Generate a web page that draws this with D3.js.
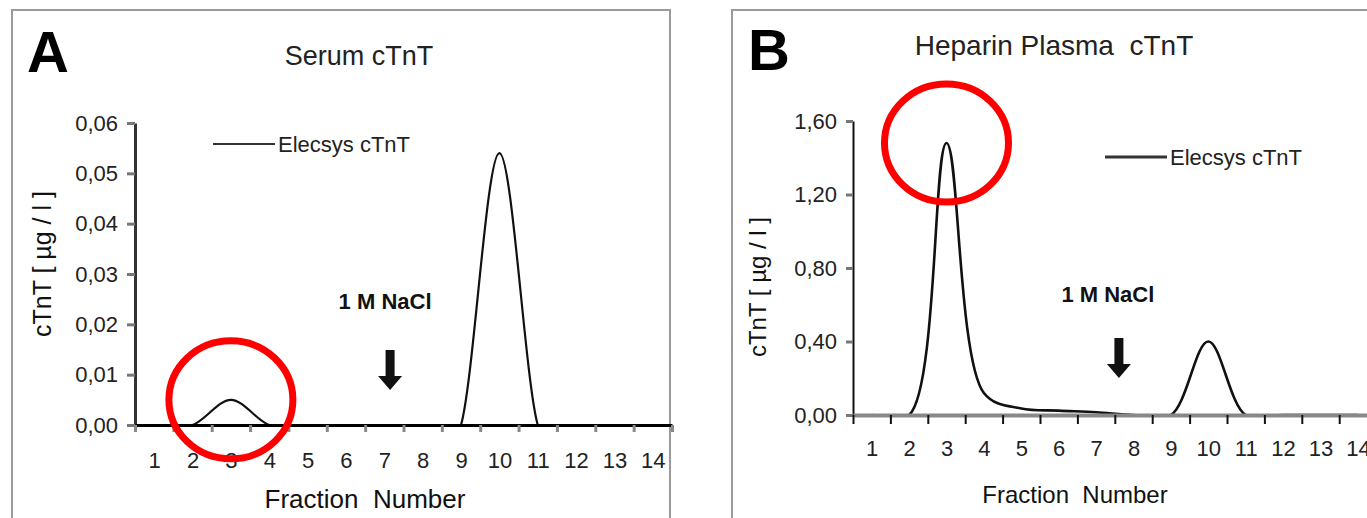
<!DOCTYPE html>
<html>
<head>
<meta charset="utf-8">
<script src="https://cdn.jsdelivr.net/npm/d3@7"></script>
<style>
  body { margin: 0; background: #fff; }
  svg { display: block; font-family: "Liberation Sans", Arial, sans-serif; }
</style>
</head>
<body>
<svg id="chart" width="1367" height="518"></svg>
<script>
// values
const fractions = [1, 2, 3, 4, 5, 6, 7, 8, 9, 10, 11, 12, 13, 14];
const serumCtnt = [0, 0, 0.005, 0, 0, 0, 0, 0, 0, 0.054, 0, 0, 0, 0];
const heparinCtnt = [0, 0, 1.48, 0.12, 0.035, 0.024, 0.015, 0, 0, 0.40, 0, 0, 0, 0];
const serumTicks = [0, 0.01, 0.02, 0.03, 0.04, 0.05, 0.06];
const heparinTicks = [0, 0.4, 0.8, 1.2, 1.6];
const seriesName = "Elecsys cTnT";
const naclLabel = "1 M NaCl";

const svg = d3.select("#chart");
svg.append("rect").attr("width", 1367).attr("height", 518).attr("fill", "#fff");

const fmt = v => d3.format(".2f")(v).replace(".", ",");

function drawPanel(p) {
    const g = svg.append("g");

    // frame round the panel (bottom is cut off by the picture)
    g.append("path")
        .attr("d", `M${p.frame.left},530V${p.frame.top}H${p.frame.right}V530`)
        .attr("fill", "none")
        .attr("stroke", "#9a9a9a")
        .attr("stroke-width", 2);

    g.append("text")
        .attr("x", p.letter.x).attr("y", p.letter.y)
        .attr("font-size", 58).attr("font-weight", "bold").attr("fill", "#000")
        .text(p.letter.text);

    g.append("text")
        .attr("x", p.title.x).attr("y", p.title.y)
        .attr("text-anchor", "middle")
        .attr("font-size", p.title.size).attr("fill", "#222")
        .style("white-space", "pre")
        .text(p.title.text);

    const x = d3.scaleLinear().domain([0.5, 14.5]).range([p.plot.x0, p.plot.x1]);
    const y = d3.scaleLinear().domain([0, p.yMax]).range([p.plot.yBase, p.plot.yTop]);

    // smoothed curve (Catmull-Rom, like a spreadsheet "smoothed line"), clipped at zero
    const clipId = "clip" + p.letter.text;
    g.append("clipPath").attr("id", clipId)
        .append("rect")
        .attr("x", p.plot.x0).attr("y", 0)
        .attr("width", p.plot.x1 - p.plot.x0)
        .attr("height", p.plot.yBase + 1.5);

    const line = d3.line()
        .x((d, i) => x(fractions[i]))
        .y(d => y(d))
        .curve(d3.curveCatmullRom.alpha(p.smooth));

    g.append("path")
        .datum(p.values)
        .attr("clip-path", `url(#${clipId})`)
        .attr("fill", "none")
        .attr("stroke", "#111")
        .attr("stroke-width", p.lineWidth)
        .attr("stroke-linejoin", "round")
        .attr("d", line);

    // y axis
    const yAxis = g.append("g")
        .attr("transform", `translate(${p.plot.x0},0)`)
        .call(d3.axisLeft(y).tickValues(p.ticks).tickFormat(fmt).tickSize(p.yAxis.tick).tickPadding(9).tickSizeOuter(0));
    yAxis.select(".domain").attr("stroke", p.yAxis.color).attr("stroke-width", p.yAxis.width);
    yAxis.selectAll(".tick line").attr("stroke", "#777").attr("stroke-width", 3);
    yAxis.selectAll(".tick text").attr("font-size", 22).attr("fill", "#222")
        .attr("font-family", "\"Liberation Sans\", Arial, sans-serif");

    // x axis: ticks on the fraction boundaries, labels in between
    const bounds = fractions.map(f => f - 0.5).concat([14.5]);
    const xTicks = g.append("g")
        .attr("transform", `translate(0,${p.plot.yBase})`)
        .call(d3.axisBottom(x).tickValues(bounds).tickFormat("").tickSize(p.xAxis.tick).tickSizeOuter(0));
    xTicks.select(".domain").attr("stroke", p.xAxis.color).attr("stroke-width", p.xAxis.width);
    xTicks.selectAll(".tick line").attr("stroke", p.xAxis.tickColor).attr("stroke-width", p.xAxis.tickWidth);

    const xLabels = g.append("g")
        .attr("transform", `translate(0,${p.plot.yBase})`)
        .call(d3.axisBottom(x).tickValues(fractions).tickFormat(d3.format("d")).tickSize(0).tickPadding(p.xAxis.pad));
    xLabels.select(".domain").remove();
    xLabels.selectAll(".tick text").attr("font-size", 22).attr("fill", "#222")
        .attr("font-family", "\"Liberation Sans\", Arial, sans-serif");

    g.append("text")
        .attr("x", p.xTitle.x).attr("y", p.xTitle.y)
        .attr("text-anchor", "middle")
        .attr("font-size", p.xTitle.size).attr("fill", "#111")
        .style("white-space", "pre")
        .text("Fraction  Number");

    g.append("text")
        .attr("transform", `translate(${p.yTitle.x},${p.yTitle.y}) rotate(-90)`)
        .attr("text-anchor", "middle")
        .attr("dominant-baseline", "central")
        .attr("font-size", p.yTitle.size).attr("fill", "#111")
        .text("cTnT [ µg / l ]");

    // legend
    g.append("line")
        .attr("x1", p.legend.x).attr("x2", p.legend.x + 62)
        .attr("y1", p.legend.y).attr("y2", p.legend.y)
        .attr("stroke", "#333").attr("stroke-width", p.legend.width);
    g.append("text")
        .attr("x", p.legend.x + 65).attr("y", p.legend.y + 8)
        .attr("font-size", 22).attr("fill", "#222")
        .text(seriesName);

    // NaCl step marker
    const ax = x(p.nacl.at);
    g.append("text")
        .attr("x", ax + p.nacl.dx).attr("y", p.nacl.textY)
        .attr("text-anchor", "middle")
        .attr("font-size", 22).attr("font-weight", "bold").attr("fill", "#111")
        .text(naclLabel);
    const t = p.nacl.tipY;
    g.append("path")
        .attr("d", `M${ax - 4.5},${t - 40}H${ax + 4.5}V${t - 14}H${ax + 12}L${ax},${t}L${ax - 12},${t - 14}H${ax - 4.5}Z`)
        .attr("fill", "#111");

    // red highlight round the first peak
    const peak = d3.max(p.values.slice(0, 5));
    g.append("ellipse")
        .attr("cx", x(3)).attr("cy", y(peak))
        .attr("rx", 62).attr("ry", 59)
        .attr("fill", "none")
        .attr("stroke", "#ff0000")
        .attr("stroke-width", 7);
}

drawPanel({
    values: serumCtnt, ticks: serumTicks, yMax: 0.06, smooth: 0,
    frame: { left: 12, top: 10, right: 670 },
    letter: { text: "A", x: 27, y: 72 },
    title: { text: "Serum cTnT", x: 359, y: 65, size: 27 },
    plot: { x0: 135, x1: 672, yTop: 123, yBase: 425 },
    lineWidth: 2.2,
    yAxis: { color: "#333", width: 3, tick: 8 },
    xAxis: { color: "#000", width: 3, tick: 7, tickColor: "#888", tickWidth: 3, pad: 27 },
    xTitle: { x: 365, y: 508, size: 26 },
    yTitle: { x: 42, y: 264, size: 25 },
    legend: { x: 213, y: 144, width: 2 },
    nacl: { at: 7.15, dx: -5, textY: 309, tipY: 390 }
});

drawPanel({
    values: heparinCtnt, ticks: heparinTicks, yMax: 1.6, smooth: 0.5,
    frame: { left: 732, top: 10, right: 1400 },
    letter: { text: "B", x: 748, y: 70 },
    title: { text: "Heparin Plasma  cTnT", x: 1054, y: 55, size: 28 },
    plot: { x0: 853, x1: 1376.6, yTop: 121, yBase: 415 },
    lineWidth: 2.6,
    yAxis: { color: "#111", width: 2, tick: 7 },
    xAxis: { color: "#888", width: 4, tick: 9, tickColor: "#111", tickWidth: 2, pad: 25 },
    xTitle: { x: 1075, y: 503, size: 24 },
    yTitle: { x: 757, y: 287, size: 24 },
    legend: { x: 1105, y: 157, width: 3 },
    nacl: { at: 7.61, dx: -11, textY: 302, tipY: 378 }
});
</script>
</body>
</html>
